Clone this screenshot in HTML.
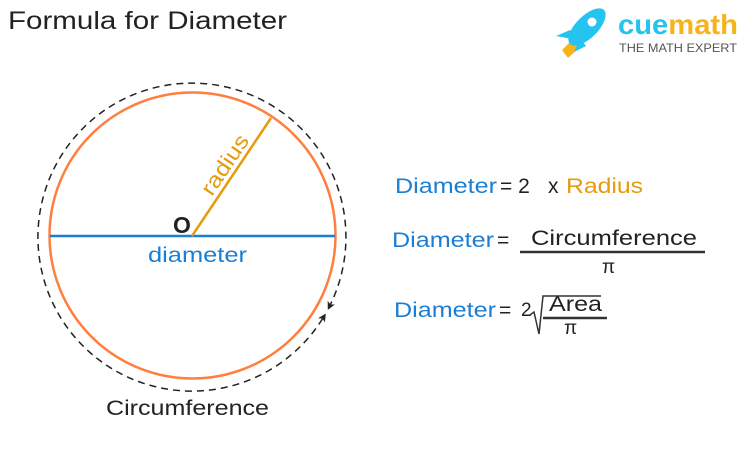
<!DOCTYPE html>
<html><head><meta charset="utf-8"><style>
body{margin:0;width:746px;height:445px;background:#fff;overflow:hidden;font-family:"Liberation Sans",sans-serif}
</style></head><body>
<svg width="746" height="445" viewBox="0 0 746 445" xmlns="http://www.w3.org/2000/svg" font-family="Liberation Sans, sans-serif">
<text x="8" y="29" font-size="25" fill="#222" textLength="279" lengthAdjust="spacingAndGlyphs">Formula for Diameter</text>
<!-- logo -->
<g>
<path d="M562 50 L572 40 L580 47 L568 58 Z" fill="#f7b319"/>
<path d="M556 36 L570 30 L578 40 Z" fill="#25c4f0"/>
<path d="M574 52 L580 38 L586 46 Z" fill="#25c4f0"/>
<ellipse cx="587" cy="27" rx="24" ry="11" transform="rotate(-45 587 27)" fill="#25c4f0"/>
<circle cx="592" cy="22" r="4.5" fill="#fff"/>
<text x="618" y="34" font-size="28" font-weight="bold" fill="#25c4f0" textLength="120" lengthAdjust="spacingAndGlyphs">cue<tspan fill="#f7b319">math</tspan></text>
<text x="619" y="52" font-size="12" fill="#555" textLength="118" lengthAdjust="spacingAndGlyphs">THE MATH EXPERT</text>
</g>
<!-- circles -->
<path d="M322.6 318.6 A154 154 0 1 1 330.4 304.5" fill="none" stroke="#222" stroke-width="1.5" stroke-dasharray="7,5"/>
<path d="M327.8 309.9 L334.9 304.5 L330.4 304.5 L327.7 300.9 Z" fill="#222"/>
<path d="M325.8 313.5 L324.9 322.4 L322.6 318.6 L318.1 318.2 Z" fill="#222"/>
<circle cx="192.5" cy="235.5" r="143" fill="none" stroke="#ff7f3f" stroke-width="2.5"/>
<line x1="50" y1="236" x2="335" y2="236" stroke="#1a7fd4" stroke-width="2.5"/>
<line x1="192" y1="236" x2="271" y2="118" stroke="#e59b0b" stroke-width="2.5"/>
<text x="0" y="0" font-size="22" fill="#e59b0b" transform="translate(212 197) rotate(-56)" textLength="68" lengthAdjust="spacingAndGlyphs">radius</text>
<text x="173" y="233" font-size="23" font-weight="bold" fill="#222">O</text>
<text x="148" y="262" font-size="21" fill="#1a7fd4" textLength="99" lengthAdjust="spacingAndGlyphs">diameter</text>
<text x="106" y="415" font-size="21" fill="#222" textLength="163" lengthAdjust="spacingAndGlyphs">Circumference</text>
<!-- formulas -->
<text x="395" y="193" font-size="21" fill="#1a7fd4" textLength="102" lengthAdjust="spacingAndGlyphs">Diameter</text>
<text x="500" y="193" font-size="21" fill="#222">= 2</text>
<text x="548" y="193" font-size="21" fill="#222">x</text>
<text x="566" y="193" font-size="21" fill="#e59b0b" textLength="77" lengthAdjust="spacingAndGlyphs">Radius</text>
<text x="392" y="247" font-size="21" fill="#1a7fd4" textLength="102" lengthAdjust="spacingAndGlyphs">Diameter</text>
<text x="497" y="247" font-size="21" fill="#222">=</text>
<text x="531" y="245" font-size="21" fill="#222" textLength="166" lengthAdjust="spacingAndGlyphs">Circumference</text>
<line x1="520" y1="252" x2="705" y2="252" stroke="#333" stroke-width="2.5"/>
<text x="602" y="273" font-size="19" fill="#222">π</text>
<text x="394" y="317" font-size="21" fill="#1a7fd4" textLength="102" lengthAdjust="spacingAndGlyphs">Diameter</text>
<text x="499" y="317" font-size="21" fill="#222">=</text>
<text x="521" y="316" font-size="19" fill="#222">2</text>
<path d="M530 315 L534 312 L539 334 L543 296 L601 296" fill="none" stroke="#333" stroke-width="1.5"/>
<text x="549" y="311" font-size="21" fill="#222" textLength="53" lengthAdjust="spacingAndGlyphs">Area</text>
<line x1="543" y1="318" x2="607" y2="318" stroke="#333" stroke-width="2.5"/>
<text x="564" y="334" font-size="19" fill="#222">π</text>
</svg>
</body></html>
